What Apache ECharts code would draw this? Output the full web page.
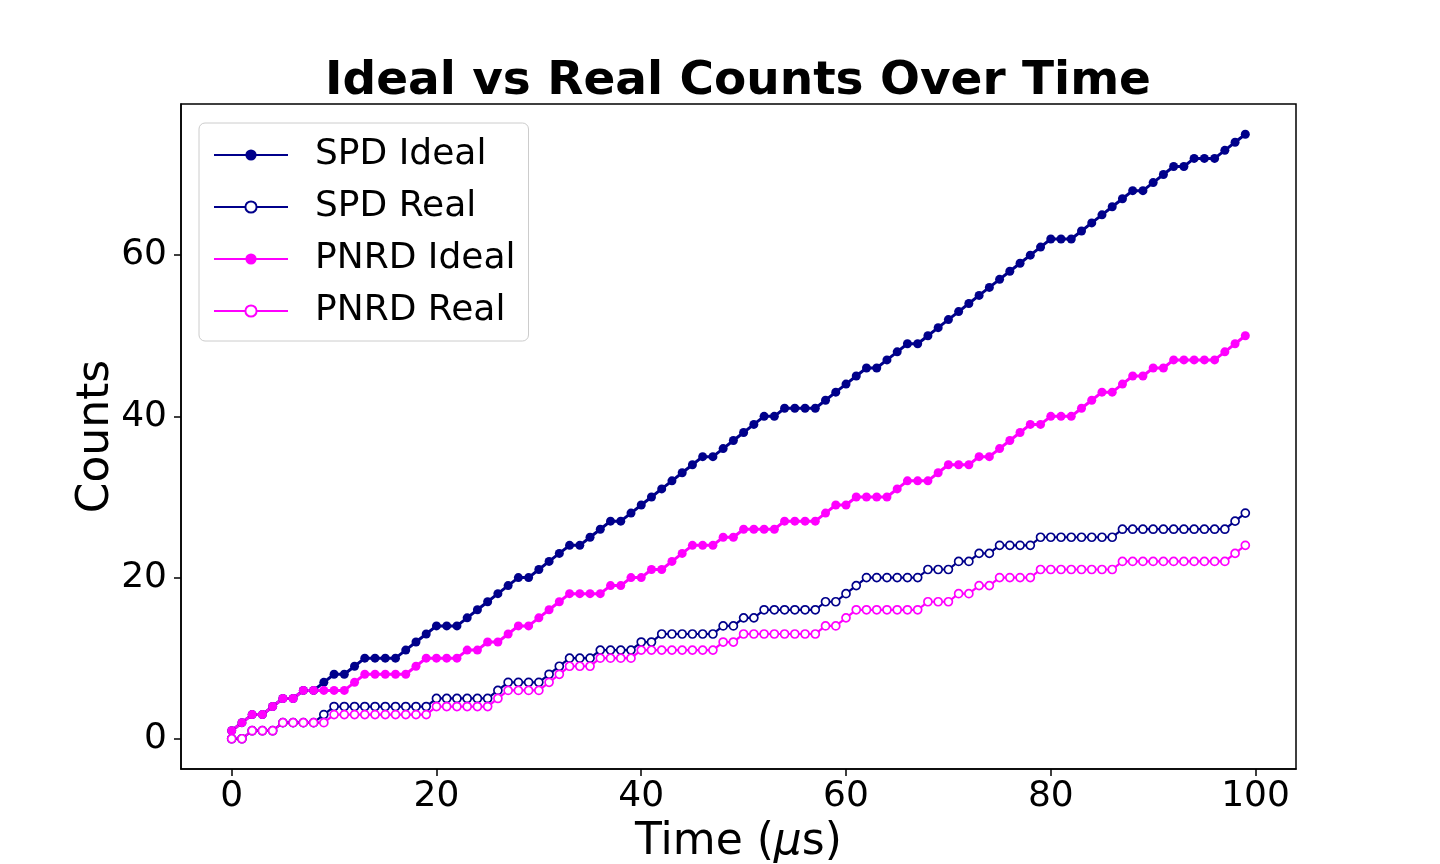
<!DOCTYPE html>
<html>
<head>
<meta charset="utf-8">
<script src="https://cdn.jsdelivr.net/npm/echarts@6/dist/echarts.min.js"></script>
<style>
html,body{margin:0;padding:0;background:#fff;}
#chart{width:1440px;height:864px;}
</style>
</head>
<body>
<div id="chart"></div>
<script>
const time = [0,1,2,3,4,5,6,7,8,9,10,11,12,13,14,15,16,17,18,19,20,21,22,23,24,25,26,27,28,29,30,31,32,33,34,35,36,37,38,39,40,41,42,43,44,45,46,47,48,49,50,51,52,53,54,55,56,57,58,59,60,61,62,63,64,65,66,67,68,69,70,71,72,73,74,75,76,77,78,79,80,81,82,83,84,85,86,87,88,89,90,91,92,93,94,95,96,97,98,99];

const spdIdeal = [1,2,3,3,4,5,5,6,6,7, 8,8,9,10,10,10,10,11,12,13, 14,14,14,15,16,17,18,19,20,20, 21,22,23,24,24,25,26,27,27,28, 29,30,31,32,33,34,35,35,36,37, 38,39,40,40,41,41,41,41,42,43, 44,45,46,46,47,48,49,49,50,51, 52,53,54,55,56,57,58,59,60,61, 62,62,62,63,64,65,66,67,68,68, 69,70,71,71,72,72,72,73,74,75];

const spdReal = [0,0,1,1,1,2,2,2,2,3, 4,4,4,4,4,4,4,4,4,4, 5,5,5,5,5,5,6,7,7,7, 7,8,9,10,10,10,11,11,11,11, 12,12,13,13,13,13,13,13,14,14, 15,15,16,16,16,16,16,16,17,17, 18,19,20,20,20,20,20,20,21,21, 21,22,22,23,23,24,24,24,24,25, 25,25,25,25,25,25,25,26,26,26, 26,26,26,26,26,26,26,26,27,28];

const pnrdIdeal = [1,2,3,3,4,5,5,6,6,6, 6,6,7,8,8,8,8,8,9,10, 10,10,10,11,11,12,12,13,14,14, 15,16,17,18,18,18,18,19,19,20, 20,21,21,22,23,24,24,24,25,25, 26,26,26,26,27,27,27,27,28,29, 29,30,30,30,30,31,32,32,32,33, 34,34,34,35,35,36,37,38,39,39, 40,40,40,41,42,43,43,44,45,45, 46,46,47,47,47,47,47,48,49,50];

const pnrdReal = [0,0,1,1,1,2,2,2,2,2, 3,3,3,3,3,3,3,3,3,3, 4,4,4,4,4,4,5,6,6,6, 6,7,8,9,9,9,10,10,10,10, 11,11,11,11,11,11,11,11,12,12, 13,13,13,13,13,13,13,13,14,14, 15,16,16,16,16,16,16,16,17,17, 17,18,18,19,19,20,20,20,20,21, 21,21,21,21,21,21,21,22,22,22, 22,22,22,22,22,22,22,22,23,24];

const seriesNames = ['SPD Ideal','SPD Real','PNRD Ideal','PNRD Real'];
const xTicks = [0,20,40,60,80,100];
const yTicks = [0,20,40,60];

const NAVY = '#00008B', MAG = '#FF00FF';
const FONT = 'DejaVu Sans';

function pairs(ys){ return time.map((t,i)=>[t, ys[i]]); }

function idealSeries(name, ys, color){
  return {
    name, type:'line', data:pairs(ys), symbol:'circle', symbolSize:9,
    itemStyle:{color:color, borderColor:color, borderWidth:0},
    lineStyle:{color:color, width:3},
    emphasis:{disabled:true}, z:2
  };
}
function realSeries(name, ys, color){
  return {
    name, type:'line', data:pairs(ys), symbol:'circle', symbolSize:8,
    itemStyle:{color:'#ffffff', borderColor:color, borderWidth:1.7},
    lineStyle:{color:color, width:2.2},
    emphasis:{disabled:true}, z:2
  };
}

const chart = echarts.init(document.getElementById('chart'), null, {renderer:'canvas'});
chart.setOption({
  animation:false,
  backgroundColor:'#ffffff',
  textStyle:{fontFamily:FONT},
  grid:{left:181, top:104, width:1115, height:665, show:true, borderColor:'#000', borderWidth:1.5, backgroundColor:'transparent', containLabel:false, outerBoundsMode:'none'},
  graphic:[{
    type:'text', x:738, y:82,
    style:{text:'Ideal vs Real Counts Over Time', font:'bold 47px "DejaVu Sans"', fill:'#000', textAlign:'center', textVerticalAlign:'middle'}
  }],
  legend:{
    data:seriesNames, orient:'vertical', left:199, top:123,
    backgroundColor:'#fff', borderColor:'#cccccc', borderWidth:1, borderRadius:6,
    padding:[12,13,10,14], itemWidth:74, itemHeight:14, itemGap:12,
    textStyle:{fontFamily:FONT, fontSize:36, color:'#000', lineHeight:40, padding:[0,0,0,22]},
    selectedMode:false
  },
  xAxis:{
    type:'value', min:-4.95, max:103.95,
    name:'Time ({i|μ}s)', nameLocation:'middle', nameGap:52, nameMoveOverlap:false,
    nameTextStyle:{fontFamily:FONT, fontSize:44, color:'#000', rich:{i:{fontFamily:FONT, fontStyle:'italic', fontSize:44, color:'#000'}}},
    axisLine:{show:true, onZero:false, lineStyle:{color:'#000', width:1.5}},
    axisTick:{show:true, inside:false, length:7, lineStyle:{color:'#000', width:1.5}, customValues:xTicks},
    axisLabel:{fontFamily:FONT, fontSize:36, color:'#000', margin:10, customValues:xTicks},
    splitLine:{show:false}
  },
  yAxis:{
    type:'value', min:-3.75, max:78.75,
    name:'Counts', nameLocation:'middle', nameGap:62, nameRotate:90, nameMoveOverlap:false,
    nameTextStyle:{fontFamily:FONT, fontSize:44, color:'#000'},
    axisLine:{show:true, onZero:false, lineStyle:{color:'#000', width:1.5}},
    axisTick:{show:true, inside:false, length:7, lineStyle:{color:'#000', width:1.5}, customValues:yTicks},
    axisLabel:{fontFamily:FONT, fontSize:36, color:'#000', margin:14, customValues:yTicks},
    splitLine:{show:false}
  },
  series:[
    idealSeries(seriesNames[0], spdIdeal, NAVY),
    realSeries(seriesNames[1], spdReal, NAVY),
    idealSeries(seriesNames[2], pnrdIdeal, MAG),
    realSeries(seriesNames[3], pnrdReal, MAG)
  ]
});
</script>
</body>
</html>
